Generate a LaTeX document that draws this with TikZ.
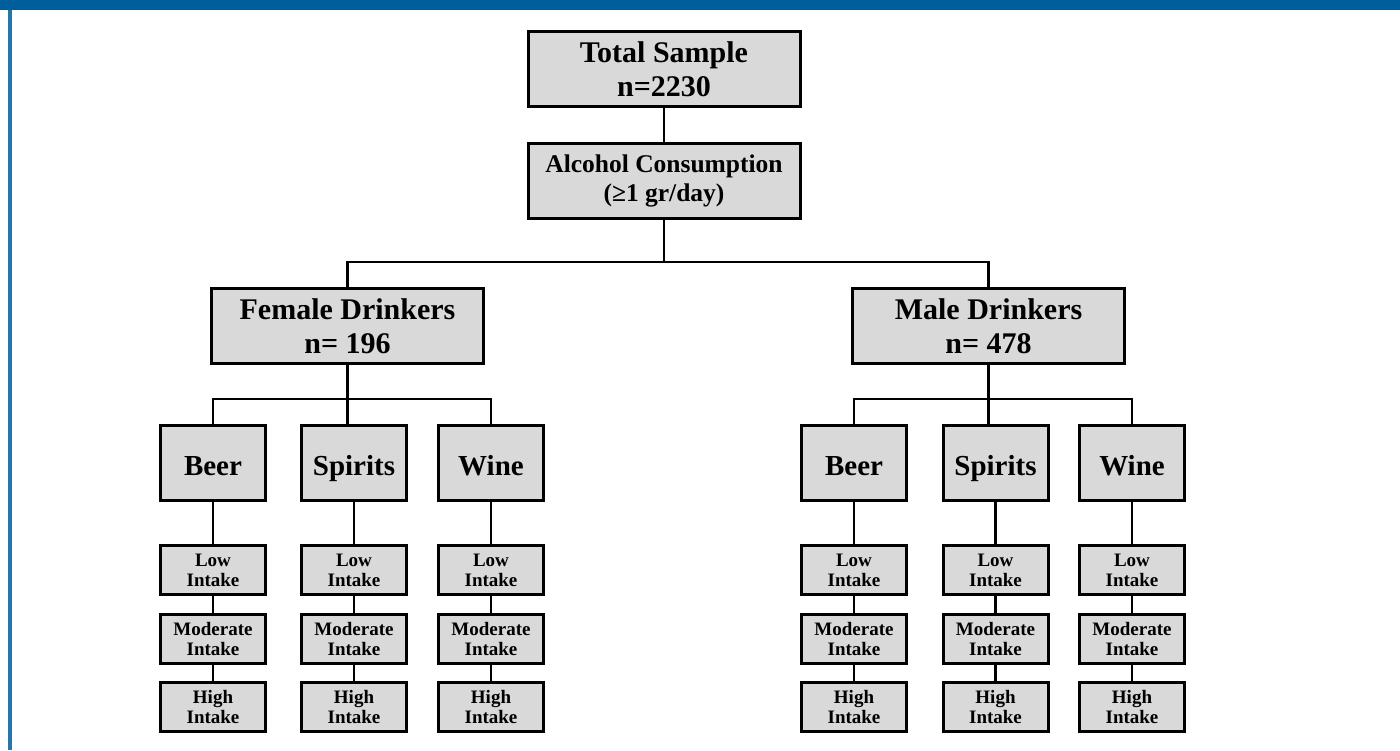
\documentclass[tikz,border=0pt]{standalone}
\usepackage{fontspec}
\setmainfont{Liberation Serif}
\usetikzlibrary{positioning}
\definecolor{frameblue}{RGB}{0,94,156}
\definecolor{boxgray}{RGB}{217,217,217}

\begin{document}
\begin{tikzpicture}[x=0.5pt,y=-0.5pt,line width=1.4pt,node distance=8.25pt]
  \tikzstyle{box}=[draw=black,fill=boxgray,line width=1.5pt,align=center,inner sep=0pt]
  \tikzstyle{bigbox}=[box,minimum width=136pt,minimum height=37.5pt,font=\bfseries\fontsize{15}{17}\selectfont]
  \tikzstyle{drinkbox}=[box,minimum width=52.5pt,minimum height=37.5pt,text height=12pt,text depth=0pt,font=\bfseries\fontsize{14.5}{16}\selectfont]
  \tikzstyle{intakebox}=[box,minimum width=52.5pt,minimum height=24.5pt,font=\bfseries\fontsize{9.5}{10}\selectfont]

  % frame
  \useasboundingbox (0,0) rectangle (1400,750);
  \fill[frameblue] (0,0) rectangle (1400,10);
  \fill[frameblue!85] (8,10) rectangle (12,750);

  \node[bigbox] (total)   at (664,69)    {Total Sample\\n=2230};
  \node[bigbox,font=\bfseries\fontsize{12.75}{14.5}\selectfont]
                (alcohol) at (664,181)   {Alcohol Consumption\\(≥1 gr/day)};
  \node[bigbox] (female)  at (347.5,326) {Female Drinkers\\n= 196};
  \node[bigbox] (male)    at (988.5,326) {Male Drinkers\\n= 478};

  \node[drinkbox] (fbeer)    at (213,463)    {Beer};
  \node[drinkbox] (fspirits) at (354,463)    {Spirits};
  \node[drinkbox] (fwine)    at (491,463)    {Wine};
  \node[drinkbox] (mbeer)    at (854,463)    {Beer};
  \node[drinkbox] (mspirits) at (995.5,463)  {Spirits};
  \node[drinkbox] (mwine)    at (1132,463)   {Wine};

  % intake levels under every drink
  \foreach \d in {fbeer,fspirits,fwine,mbeer,mspirits,mwine} {
    \node[intakebox] (\d-low)  [below=21pt of \d] {Low\\Intake};
    \node[intakebox] (\d-mod)  [below=of \d-low]  {Moderate\\Intake};
    \node[intakebox] (\d-high) [below=of \d-mod]  {High\\Intake};
    \draw (\d) -- (\d-low) -- (\d-mod) -- (\d-high);
  }

  \coordinate (split)  at (664,262);
  \coordinate (fsplit) at (347.5,399);
  \coordinate (msplit) at (988.5,399);

  \draw (total) -- (alcohol);
  \draw (alcohol) -- (split);
  \draw (female.north) |- (split) -| (male.north);

  \draw (female) -- (fsplit) -- (fsplit |- fspirits.north);
  \draw (fbeer.north) |- (fsplit) -| (fwine.north);

  \draw (male) -- (msplit) -- (msplit |- mspirits.north);
  \draw (mbeer.north) |- (msplit) -| (mwine.north);
\end{tikzpicture}
\end{document}
